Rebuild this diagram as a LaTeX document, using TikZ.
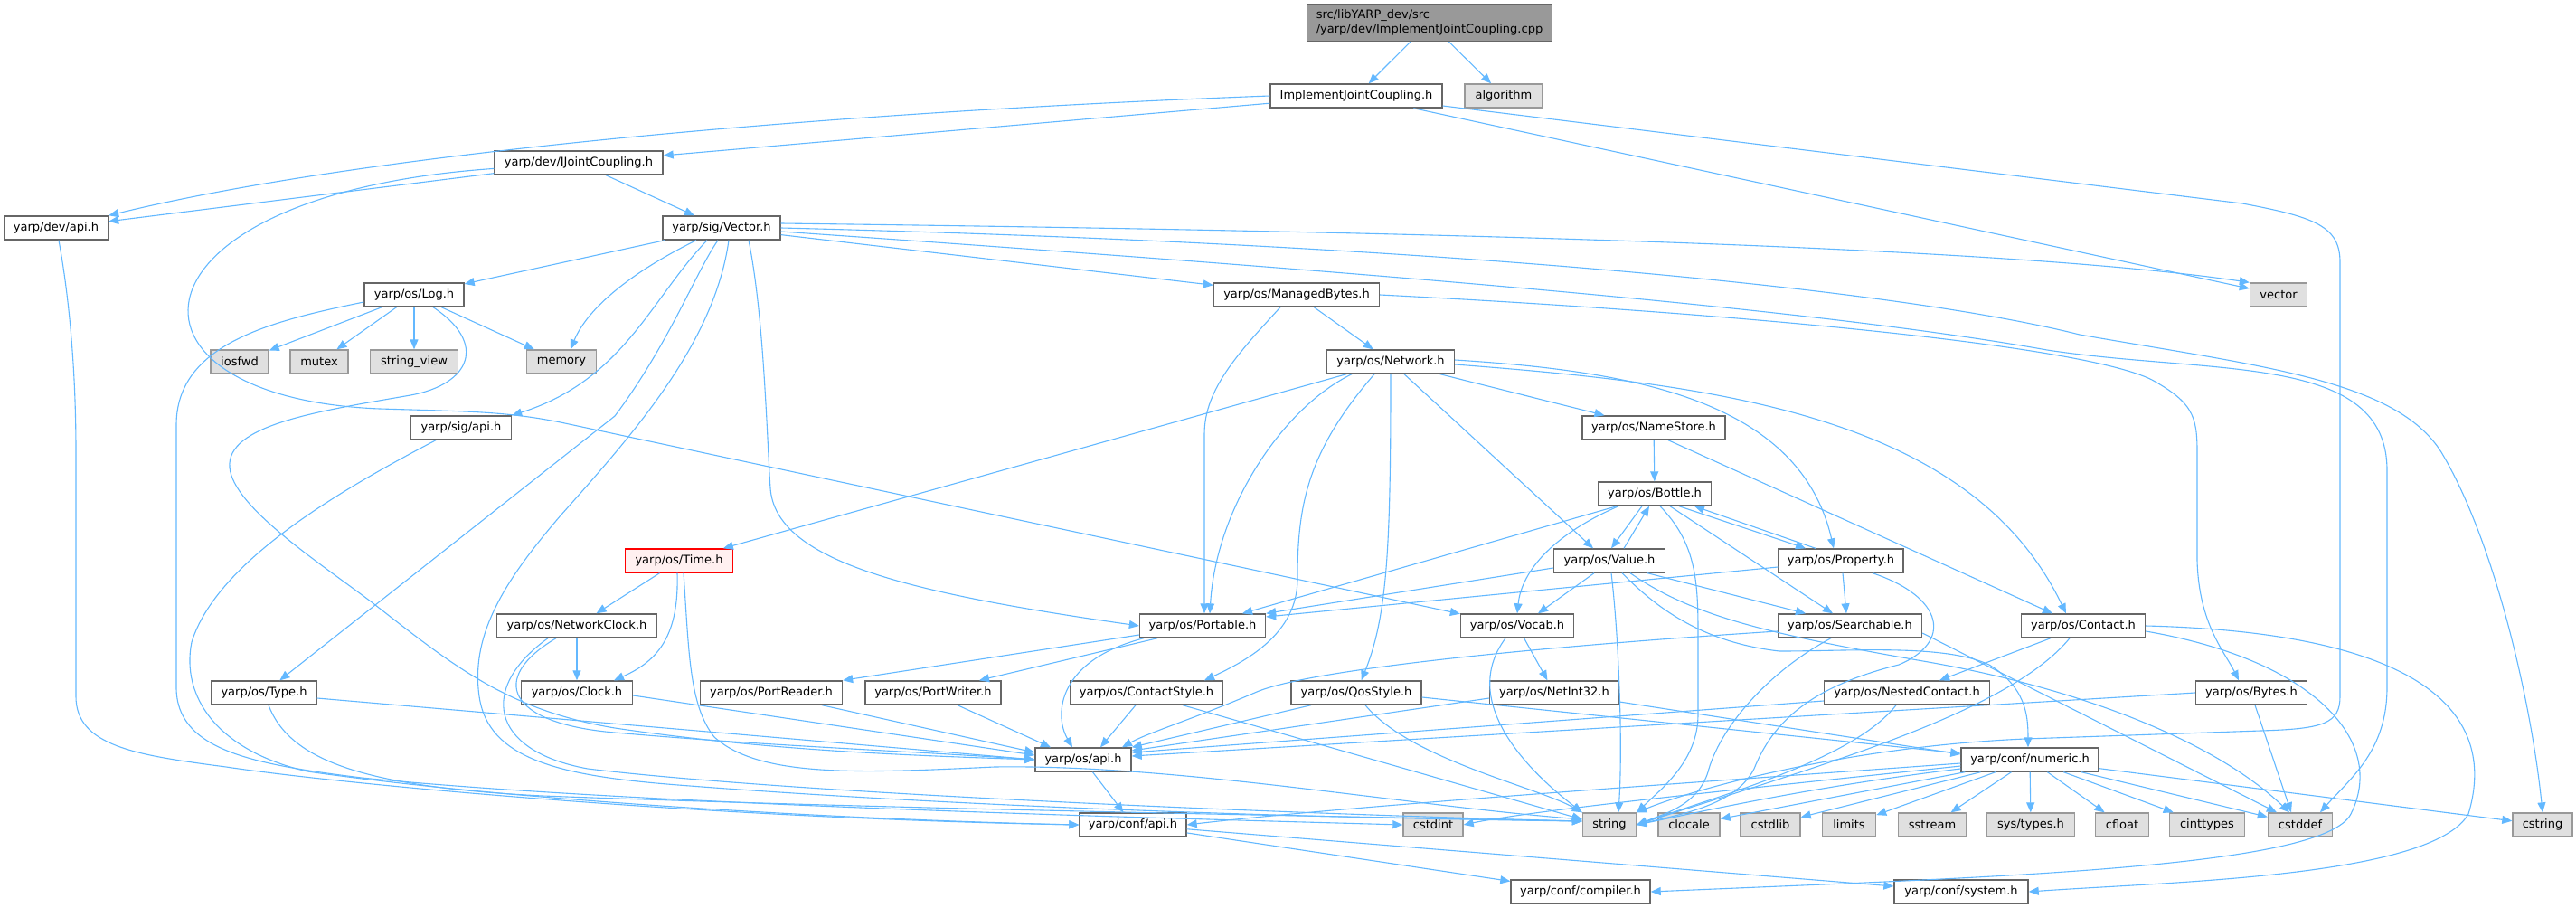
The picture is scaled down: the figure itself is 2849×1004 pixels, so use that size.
\documentclass[tikz,border=0pt]{standalone}
\usepackage{fontspec}
\setmainfont{DejaVu Sans}
\usetikzlibrary{arrows.meta}
\definecolor{edgec}{HTML}{63B8FF}
\definecolor{bordc}{HTML}{666666}
\definecolor{extb}{HTML}{999999}
\definecolor{extf}{HTML}{E0E0E0}
\definecolor{rootf}{HTML}{999999}
\definecolor{redb}{HTML}{FF0000}
\definecolor{redf}{HTML}{FFF0F0}
\begin{document}
\begin{tikzpicture}[x=1pt,y=-1pt,
  every node/.style={font=\fontsize{13}{15.5}\selectfont, inner sep=0pt, minimum height=26pt, line width=1.4pt},
  hdr/.style={draw=bordc, fill=white},
  ext/.style={draw=extb, fill=extf},
  rootn/.style={draw=bordc, fill=rootf, minimum height=41pt, align=left},
  redn/.style={draw=redb, fill=redf},
  ed/.style={draw=edgec, line width=1.1pt, -{Triangle[length=11pt,width=9pt]}},
]
\useasboundingbox (0,0) rectangle (2849,1004);
% nodes
\node[rootn, minimum width=271pt] (root) at (1581,25) {src/libYARP\_dev/src\\/yarp/dev/ImplementJointCoupling.cpp};
\node[hdr, minimum width=190pt] (IJCh) at (1500,106) {ImplementJointCoupling.h};
\node[ext, minimum width=86pt] (algorithm) at (1663,106) {algorithm};
\node[hdr, minimum width=186pt] (IJC) at (640,180) {yarp/dev/IJointCoupling.h};
\node[hdr, minimum width=115pt] (devapi) at (62,252) {yarp/dev/api.h};
\node[hdr, minimum width=130pt] (vec) at (798,252) {yarp/sig/Vector.h};
\node[hdr, minimum width=110pt] (log) at (458,326) {yarp/os/Log.h};
\node[hdr, minimum width=183pt] (mb) at (1434,326) {yarp/os/ManagedBytes.h};
\node[ext, minimum width=63pt] (vector) at (2520,326) {vector};
\node[ext, minimum width=64pt] (iosfwd) at (265,400) {iosfwd};
\node[ext, minimum width=64pt] (mutex) at (353,400) {mutex};
\node[ext, minimum width=97pt] (stringview) at (458,400) {string\_view};
\node[ext, minimum width=77pt] (memory) at (621,400) {memory};
\node[hdr, minimum width=141pt] (net) at (1538,400) {yarp/os/Network.h};
\node[hdr, minimum width=111pt] (sigapi) at (510,473) {yarp/sig/api.h};
\node[hdr, minimum width=158pt] (namestore) at (1829,473) {yarp/os/NameStore.h};
\node[hdr, minimum width=125pt] (bottle) at (1830,546) {yarp/os/Bottle.h};
\node[redn, minimum width=119pt] (time) at (751,620) {yarp/os/Time.h};
\node[hdr, minimum width=123pt] (value) at (1780,620) {yarp/os/Value.h};
\node[hdr, minimum width=138pt] (property) at (2036,620) {yarp/os/Property.h};
\node[hdr, minimum width=177pt] (netclock) at (638,692) {yarp/os/NetworkClock.h};
\node[hdr, minimum width=139pt] (portable) at (1330,692) {yarp/os/Portable.h};
\node[hdr, minimum width=125pt] (vocab) at (1678,692) {yarp/os/Vocab.h};
\node[hdr, minimum width=159pt] (searchable) at (2046,692) {yarp/os/Searchable.h};
\node[hdr, minimum width=137pt] (contact) at (2304,692) {yarp/os/Contact.h};
\node[hdr, minimum width=116pt] (type) at (292,766) {yarp/os/Type.h};
\node[hdr, minimum width=123pt] (clock) at (638,766) {yarp/os/Clock.h};
\node[hdr, minimum width=157pt] (portreader) at (853,766) {yarp/os/PortReader.h};
\node[hdr, minimum width=150pt] (portwriter) at (1032,766) {yarp/os/PortWriter.h};
\node[hdr, minimum width=169pt] (contactstyle) at (1268,766) {yarp/os/ContactStyle.h};
\node[hdr, minimum width=144pt] (qos) at (1500,766) {yarp/os/QosStyle.h};
\node[hdr, minimum width=143pt] (netint) at (1719,766) {yarp/os/NetInt32.h};
\node[hdr, minimum width=183pt] (nested) at (2109,766) {yarp/os/NestedContact.h};
\node[hdr, minimum width=123pt] (bytes) at (2490,766) {yarp/os/Bytes.h};
\node[hdr, minimum width=106pt] (osapi) at (1198,840) {yarp/os/api.h};
\node[hdr, minimum width=152pt] (numeric) at (2245,840) {yarp/conf/numeric.h};
\node[hdr, minimum width=118pt] (confapi) at (1253,912) {yarp/conf/api.h};
\node[ext, minimum width=66pt] (cstdint) at (1585,912) {cstdint};
\node[ext, minimum width=59pt] (string) at (1780,912) {string};
\node[ext, minimum width=68pt] (clocale) at (1868,912) {clocale};
\node[ext, minimum width=66pt] (cstdlib) at (1958,912) {cstdlib};
\node[ext, minimum width=59pt] (limits) at (2045,912) {limits};
\node[ext, minimum width=75pt] (sstream) at (2137,912) {sstream};
\node[ext, minimum width=97pt] (systypes) at (2246,912) {sys/types.h};
\node[ext, minimum width=59pt] (cfloat) at (2347,912) {cfloat};
\node[ext, minimum width=83pt] (cinttypes) at (2441,912) {cinttypes};
\node[ext, minimum width=71pt] (cstddef) at (2544,912) {cstddef};
\node[ext, minimum width=66pt] (cstring) at (2812,912) {cstring};
\node[hdr, minimum width=154pt] (compiler) at (1748,986) {yarp/conf/compiler.h};
\node[hdr, minimum width=148pt] (system) at (2169,986) {yarp/conf/system.h};
% edges
\draw[ed] (root) -- (IJCh);
\draw[ed] (root) -- (algorithm);
\draw[ed] (IJCh) -- (IJC);
\draw[ed] (IJCh.west) .. controls (900,125) and (400,170) .. (devapi.north east);
\draw[ed] (IJCh) -- (vector);
\draw[ed] ([yshift=-11pt]IJCh.east) -- (2480,225) .. controls (2560,240) and (2588,250) .. (2588,290) -- (2588,770) .. controls (2588,800) and (2570,806) .. (2500,808) -- (2240,817) .. controls (2050,825) and (1880,870) .. (string.north east);
\draw[ed] (IJC) -- (devapi);
\draw[ed] (IJC) -- (vec);
\draw[ed] (IJC) .. controls (130,215) and (110,440) .. (420,452) .. controls (520,455) and (560,455) .. (620,467) -- (vocab);
\draw[ed] ([xshift=3pt]devapi.south) .. controls (75,320) and (84,400) .. (84,500) -- (84,770) .. controls (84,825) and (150,835) .. (250,848) .. controls (400,870) and (800,905) .. (confapi.west);
\draw[ed] (vec) -- (log);
\draw[ed] (vec) .. controls (700,300) and (650,340) .. ([xshift=10pt]memory.north);
\draw[ed] ([xshift=-16pt]vec.south) .. controls (720,330) and (690,420) .. (sigapi.north east);
\draw[ed] ([xshift=-4pt]vec.south) .. controls (770,300) and (740,380) .. (680,460) -- (type);
\draw[ed] ([xshift=8pt]vec.south) .. controls (790,380) and (700,480) .. (620,570) .. controls (560,640) and (520,700) .. (530,770) .. controls (540,840) and (620,858) .. (750,868) .. controls (1100,895) and (1500,905) .. ([yshift=4pt]string.west);
\draw[ed] (vec) -- (mb);
\draw[ed] ([yshift=5pt]vec.east) .. controls (1500,255) and (2200,270) .. (vector.north west);
\draw[ed] (vec.east) .. controls (1600,270) and (2100,320) .. (2300,370) .. controls (2500,405) and (2650,420) .. (2700,500) .. controls (2760,600) and (2800,780) .. (cstring.north);
\draw[ed] ([yshift=-4pt]vec.east) .. controls (1500,300) and (2000,340) .. (2264,387) .. controls (2450,415) and (2640,390) .. (2640,520) -- (2640,760) .. controls (2640,830) and (2600,860) .. ([xshift=22pt]cstddef.north);
\draw[ed] ([xshift=30pt]vec.south) .. controls (845,350) and (848,480) .. (852,540) .. controls (858,620) and (1000,655) .. (portable.west);
\draw[ed] (log) -- (iosfwd);
\draw[ed] (log) -- (mutex);
\draw[ed] (log) -- (stringview);
\draw[ed] (log) -- (memory);
\draw[ed] ([xshift=21pt]log.south) .. controls (540,380) and (520,425) .. (454,437) .. controls (350,455) and (250,470) .. (254,517) .. controls (258,560) and (350,620) .. (410,665) .. controls (500,735) and (560,785) .. (680,805) .. controls (850,830) and (1000,835) .. (osapi.west);
\draw[ed] ([yshift=-8pt]log.west) .. controls (300,355) and (195,380) .. (195,470) -- (195,760) .. controls (195,830) and (280,845) .. (400,860) .. controls (700,890) and (1300,905) .. (cstdint.west);
\draw[ed] ([xshift=-28pt]sigapi.south) .. controls (380,540) and (240,620) .. (212,710) .. controls (200,770) and (240,830) .. (340,853) .. controls (600,890) and (1000,908) .. (confapi.west);
\draw[ed] ([yshift=-6pt]type.east) -- (osapi.west);
\draw[ed] ([xshift=5pt]type.south) .. controls (320,840) and (400,870) .. (600,880) .. controls (1000,895) and (1500,903) .. ([yshift=4pt]string.west);
\draw[ed] (mb) -- (net);
\draw[ed] ([xshift=-18pt]mb.south) .. controls (1370,390) and (1332,430) .. (1332,480) -- ([xshift=2pt]portable.north);
\draw[ed] (mb.east) .. controls (1900,345) and (2300,380) .. (2380,420) .. controls (2425,445) and (2430,460) .. (2430,500) -- (2430,620) .. controls (2432,690) and (2460,720) .. ([xshift=-14pt]bytes.north);
\draw[ed] (net) -- (time);
\draw[ed] ([xshift=-43pt]net.south) .. controls (1420,450) and (1345,560) .. ([xshift=8pt]portable.north);
\draw[ed] ([xshift=-18pt]net.south) .. controls (1445,500) and (1435,560) .. (1435,640) .. controls (1435,700) and (1380,730) .. ([xshift=64pt]contactstyle.north);
\draw[ed] (net) .. controls (1538,600) and (1535,680) .. (qos);
\draw[ed] ([xshift=15pt]net.south) -- ([xshift=-18pt]value.north);
\draw[ed] (net) -- (namestore);
\draw[ed] ([yshift=2pt]net.east) .. controls (1800,410) and (1990,440) .. ([xshift=-8pt]property.north);
\draw[ed] ([yshift=-3pt]net.east) .. controls (1900,425) and (2180,460) .. ([xshift=-19pt]contact.north);
\draw[ed] (namestore) -- (bottle);
\draw[ed] ([xshift=16pt]namestore.south) -- ([xshift=-34pt]contact.north);
\draw[ed] ([xshift=-42pt]bottle.south) -- ([xshift=44pt]portable.north);
\draw[ed] ([xshift=-40pt]bottle.south) .. controls (1720,590) and (1683,630) .. (vocab.north);
\draw[ed] ([xshift=-14pt]bottle.south) -- ([xshift=2pt]value.north);
\draw[ed] ([xshift=16pt]value.north) -- ([xshift=-6pt]bottle.south);
\draw[ed] ([xshift=6pt]bottle.south) .. controls (1875,600) and (1878,640) .. (1878,700) -- (1878,790) .. controls (1878,840) and (1840,870) .. (string.north east);
\draw[ed] ([xshift=17pt]bottle.south) -- ([xshift=-19pt]searchable.north);
\draw[ed] ([xshift=27pt]bottle.south) -- ([xshift=-39pt]property.north);
\draw[ed] ([xshift=-28pt]property.north) -- ([xshift=44pt]bottle.south);
\draw[ed] ([yshift=-8pt]value.west) -- (portable.north east);
\draw[ed] ([xshift=-17pt]value.south) -- ([xshift=23pt]vocab.north);
\draw[ed] ([xshift=2pt]value.south) .. controls (1790,700) and (1795,820) .. ([xshift=10pt]string.north);
\draw[ed] ([xshift=14pt]value.south) .. controls (1830,670) and (1880,710) .. (1968,720) .. controls (2050,720) and (2150,712) .. (2200,735) .. controls (2240,760) and (2243,790) .. ([xshift=-2pt]numeric.north);
\draw[ed] ([xshift=23pt]value.south) .. controls (1870,680) and (1950,700) .. (2121,730) .. controls (2300,760) and (2450,820) .. ([xshift=-12pt]cstddef.north);
\draw[ed] ([xshift=42pt]value.south) -- ([xshift=-49pt]searchable.north);
\draw[ed] ([yshift=-7pt]property.west) -- ([yshift=10pt]portable.east);
\draw[ed] ([xshift=2pt]property.south) -- ([xshift=-4pt]searchable.north);
\draw[ed] ([xshift=35pt]property.south) .. controls (2150,660) and (2160,710) .. (2100,735) .. controls (2000,760) and (1960,800) .. (1940,850) .. controls (1920,890) and (1860,900) .. (string.east);
\draw[ed] ([yshift=-6pt]searchable.west) .. controls (1700,715) and (1450,740) .. (1390,765) .. controls (1320,795) and (1270,810) .. ([xshift=43pt]osapi.north);
\draw[ed] ([xshift=-21pt]searchable.south) .. controls (1960,740) and (1905,800) .. (1890,850) .. controls (1880,890) and (1840,900) .. (string.east);
\draw[ed] ([yshift=-8pt]searchable.east) -- ([xshift=-26pt]cstddef.north);
\draw[ed] (contact) -- (nested);
\draw[ed] ([xshift=-15pt]contact.south) .. controls (2220,790) and (2000,850) .. (string.east);
\draw[ed] ([yshift=-6pt]contact.east) .. controls (2560,730) and (2640,820) .. (2600,900) .. controls (2570,960) and (2200,970) .. (compiler.east);
\draw[ed] (contact.east) .. controls (2700,700) and (2760,800) .. (2730,900) .. controls (2690,970) and (2400,975) .. (system.east);
\draw[ed] ([yshift=-9pt]nested.west) -- ([yshift=8pt]osapi.east);
\draw[ed] ([xshift=-12pt]nested.south) .. controls (2050,840) and (1900,880) .. (string.east);
\draw[ed] (bytes.west) -- ([yshift=4pt]osapi.east);
\draw[ed] ([xshift=4pt]bytes.south) -- ([xshift=-10pt]cstddef.north);
\draw[ed] ([yshift=-4pt]numeric.west) .. controls (1950,860) and (1500,890) .. (confapi.east);
\draw[ed] ([yshift=-7pt]numeric.west) .. controls (1950,870) and (1700,895) .. (cstdint.east);
\draw[ed] ([yshift=-10pt]numeric.west) .. controls (2000,870) and (1870,900) .. (string.east);
\draw[ed] (numeric) -- (clocale);
\draw[ed] (numeric) -- (cstdlib);
\draw[ed] (numeric) -- (limits);
\draw[ed] (numeric) -- (sstream);
\draw[ed] (numeric) -- (systypes);
\draw[ed] (numeric) -- (cfloat);
\draw[ed] (numeric) -- (cinttypes);
\draw[ed] (numeric) -- (cstddef);
\draw[ed] (numeric) -- (cstring);
\draw[ed] (osapi) -- (confapi);
\draw[ed] (confapi) -- (compiler);
\draw[ed] (confapi) -- (system);
\draw[ed] (time) -- (netclock);
\draw[ed] ([xshift=-2pt]time.south) .. controls (751,700) and (730,730) .. ([xshift=41pt]clock.north);
\draw[ed] ([xshift=5pt]time.south) .. controls (762,720) and (762,780) .. (790,815) .. controls (840,860) and (950,855) .. (1100,848) .. controls (1300,845) and (1550,890) .. ([yshift=6pt]string.west);
\draw[ed] (netclock) -- (clock);
\draw[ed] ([xshift=-23pt]netclock.south) .. controls (540,750) and (560,800) .. (680,810) .. controls (850,825) and (1000,830) .. (osapi.west);
\draw[ed] ([xshift=-32pt]netclock.south) .. controls (530,760) and (540,830) .. (650,850) .. controls (900,880) and (1500,902) .. ([yshift=4pt]string.west);
\draw[ed] ([yshift=-3pt]clock.east) -- ([yshift=5pt]osapi.west);
\draw[ed] ([xshift=56pt]portreader.south) -- ([yshift=8pt]osapi.west);
\draw[ed] ([xshift=27pt]portwriter.south) -- ([xshift=-36pt]osapi.north);
\draw[ed] ([yshift=-10pt]portable.west) -- (portreader.north east);
\draw[ed] ([xshift=-50pt]portable.south) -- ([xshift=51pt]portwriter.north);
\draw[ed] ([xshift=-65pt]portable.south) .. controls (1170,730) and (1165,790) .. ([xshift=-12pt]osapi.north);
\draw[ed] ([xshift=-12pt]contactstyle.south) -- ([xshift=19pt]osapi.north);
\draw[ed] ([xshift=40pt]contactstyle.south) -- ([yshift=6pt]string.west);
\draw[ed] ([xshift=-50pt]qos.south) -- (osapi.north east);
\draw[ed] ([xshift=10pt]qos.south) .. controls (1560,840) and (1700,870) .. (string.north west);
\draw[ed] ([yshift=-5pt]qos.east) -- ([yshift=7pt]numeric.west);
\draw[ed] ([yshift=-6pt]netint.west) -- ([yshift=10pt]osapi.east);
\draw[ed] ([yshift=-10pt]netint.east) -- ([yshift=6pt]numeric.west);
\draw[ed] ([xshift=-13pt]vocab.south) .. controls (1610,780) and (1700,860) .. (string.north west);
\draw[ed] (vocab) -- (netint);
\end{tikzpicture}
\end{document}
